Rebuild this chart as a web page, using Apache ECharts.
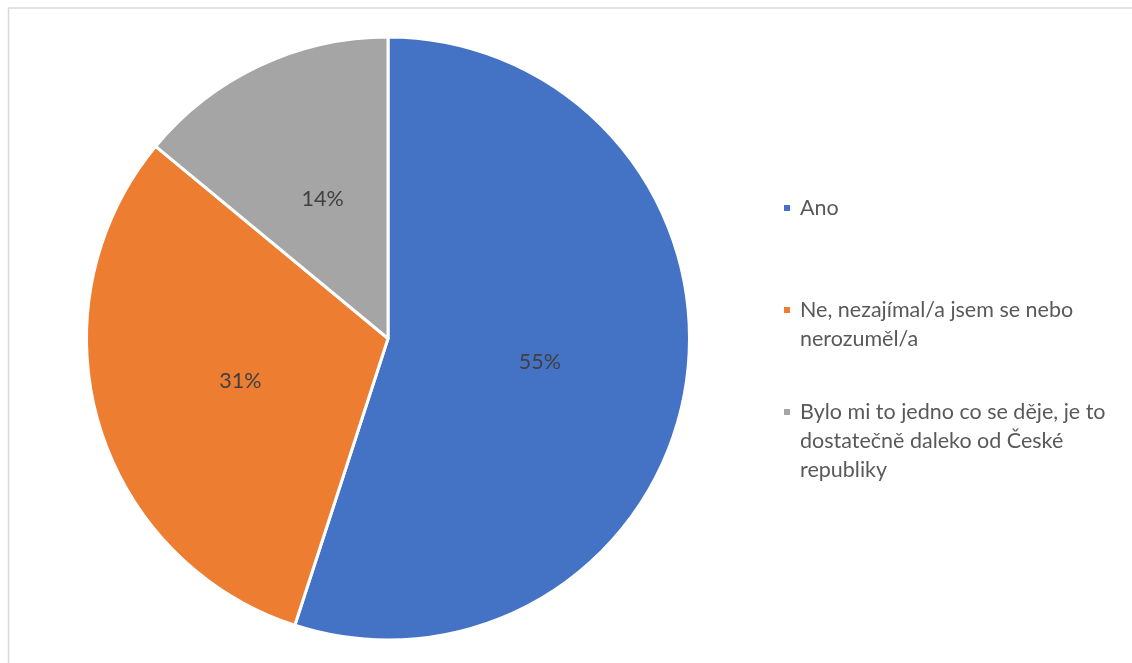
<!DOCTYPE html>
<html>
<head>
<meta charset="utf-8">
<script src="https://cdn.jsdelivr.net/npm/echarts@6/dist/echarts.min.js"></script>
<style>
  html, body { margin: 0; padding: 0; background: #ffffff; overflow: hidden; }
  #chart { width: 1132px; height: 663px; }
</style>
</head>
<body>
<div id="chart"></div>
<script>
// Survey answers and their shares (percent)
const categories = [
  'Ano',
  'Ne, nezajímal/a jsem se nebo\nnerozuměl/a',
  'Bylo mi to jedno co se děje, je to\ndostatečně daleko od České\nrepubliky'
];
const shares = [55, 31, 14];
const colors = ['#4472C4', '#ED7D31', '#A5A5A5'];

const FONT = 'Lato, "Open Sans", sans-serif';
const FONT_SIZE = 21.5;
const LINE_H = 29;
// vertical position of the first text line of each legend entry
const legendLineCenters = [208, 310, 412];

const chart = echarts.init(document.getElementById('chart'), null, { renderer: 'canvas' });

// One legend block per entry. The legend text is centred on its marker, so
// empty lines are prepended to keep the marker level with the first line.
const legends = categories.map((name, i) => {
  const lines = name.split('\n').length;
  const lead = lines - 1;
  const blockH = (lines + lead) * LINE_H;
  return {
    orient: 'vertical',
    left: 782,
    top: legendLineCenters[i] - blockH / 2,
    padding: 0,
    itemWidth: 8,
    itemHeight: 8,
    icon: 'rect',
    selectedMode: false,
    data: [name],
    formatter: n => '\n'.repeat(lead) + n,
    textStyle: {
      fontFamily: FONT,
      fontSize: FONT_SIZE,
      color: '#595959',
      lineHeight: LINE_H,
      padding: [0, 0, 0, 4]
    }
  };
});

chart.setOption({
  animation: false,
  backgroundColor: '#ffffff',
  color: colors,
  graphic: [{
    // chart frame: only its left and top edges fall inside the canvas
    type: 'polyline',
    silent: true,
    shape: { points: [[8.5, 663], [8.5, 8], [1132, 8]] },
    style: { fill: null, stroke: '#d9d9d9', lineWidth: 1.5 }
  }],
  legend: legends,
  series: [{
    type: 'pie',
    center: [388, 338.5],
    radius: [0, 301.5],
    startAngle: 90,
    clockwise: true,
    itemStyle: { borderColor: '#ffffff', borderWidth: 3 },
    label: {
      show: true,
      position: 'inner',
      formatter: '{c}%',
      fontFamily: FONT,
      fontSize: FONT_SIZE,
      color: '#404040'
    },
    labelLine: { show: false },
    emphasis: { disabled: true },
    data: categories.map((name, i) => ({ name: name, value: shares[i] }))
  }]
});
</script>
</body>
</html>
